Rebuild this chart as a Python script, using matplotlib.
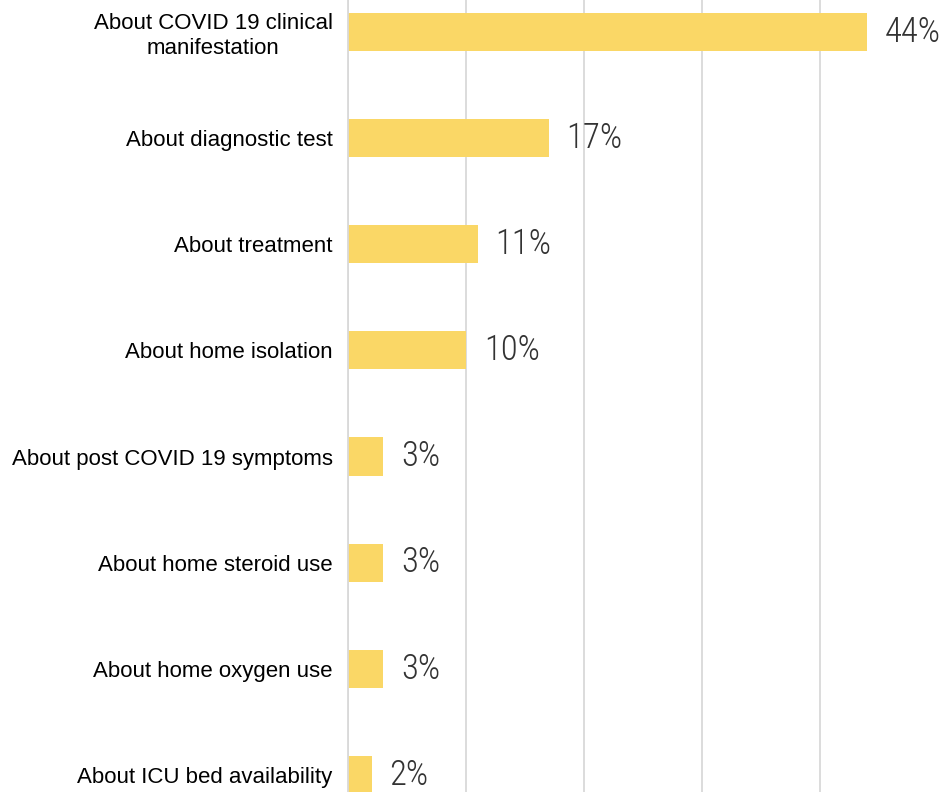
import matplotlib.pyplot as plt

# Datos del gráfico (porcentaje de consultas por tema)
temas = [
    "About COVID 19 clinical\nmanifestation",
    "About diagnostic test",
    "About treatment",
    "About home isolation",
    "About post COVID 19 symptoms",
    "About home steroid use",
    "About home oxygen use",
    "About ICU bed availability",
]
valores = [44, 17, 11, 10, 3, 3, 3, 2]
etiquetas = ["44%", "17%", "11%", "10%", "3%", "3%", "3%", "2%"]

fig = plt.figure(figsize=(9.43, 7.92), dpi=100)
ax = fig.add_axes([348 / 943, 0, (943 - 348) / 943, 1])

pos = list(range(len(temas)))
ax.barh(pos, valores, height=0.36, color="#FAD766", zorder=2)

# Porcentajes con fuente condensada
for p, v, t in zip(pos, valores, etiquetas):
    ax.text(v + 1.5, p, t, va="center", ha="left", fontsize=25,
            family=["Roboto Condensed", "Barlow Condensed", "DejaVu Sans"],
            weight="light", color="#333333", zorder=3)

ax.set_xlim(0, (943 - 348) / 11.8)
ax.set_ylim(7.16, -0.30)
ax.set_xticks([0, 10, 20, 30, 40])
ax.xaxis.grid(True, color="#d9d9d9", linewidth=1.3, zorder=0)
ax.tick_params(axis="x", length=0, labelbottom=False)
ax.tick_params(axis="y", length=0, pad=11)
ax.set_yticks(pos)
ax.set_yticklabels(temas, fontsize=16, family="Liberation Sans", multialignment="center")

for lado in ["top", "right", "bottom"]:
    ax.spines[lado].set_visible(False)
ax.spines["left"].set_color("#d9d9d9")
ax.spines["left"].set_linewidth(1.3)

fig.savefig("out.png", dpi=100)
